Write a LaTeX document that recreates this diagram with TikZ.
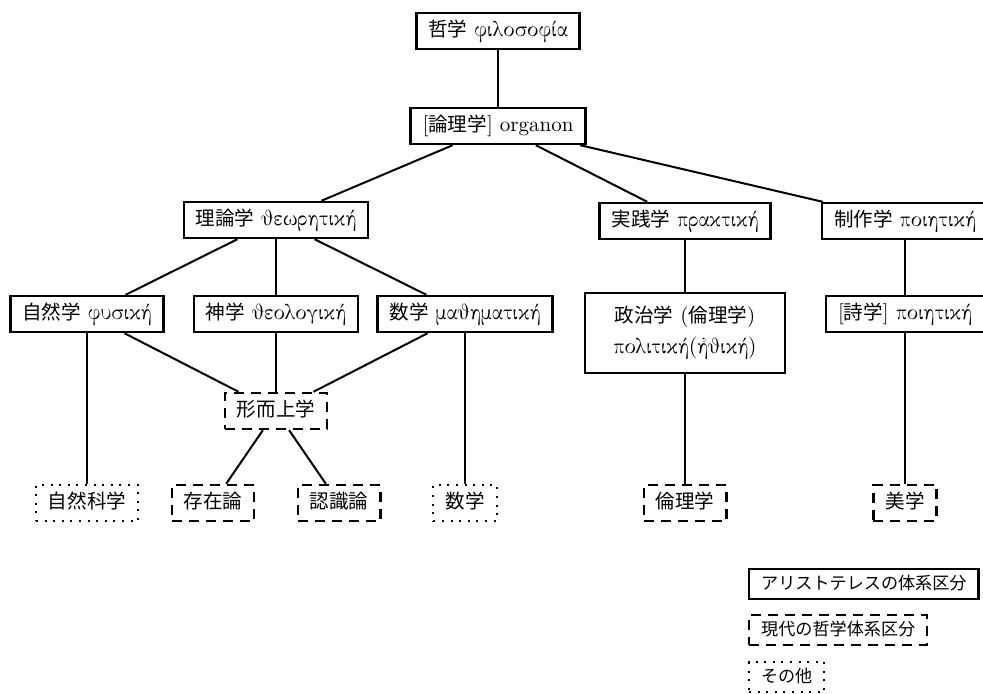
\documentclass[tikz,border=0pt]{standalone}
\usepackage[LGR,TU]{fontenc}
\usepackage{fontspec}
\newfontfamily\jpfont{Noto Sans CJK JP}[Scale=0.93]
\newcommand\J[1]{{\jpfont #1}}
\newcommand\G[1]{{\fontencoding{LGR}\fontfamily{cmr}\selectfont #1}}
\begin{document}
\begin{tikzpicture}[x=0.5pt, y=-0.5pt,
  frame/.style={draw, line width=1.2pt, font=\fontsize{10.5}{12.5}\selectfont},
  box/.style={frame, inner xsep=6pt, inner ysep=0pt, minimum height=18pt, text height=7.8pt, text depth=2.2pt},
  modern/.style={box, dash pattern=on 5pt off 3.5pt},
  other/.style={box, line width=1pt, dash pattern=on 1pt off 3.3pt},
  legend/.style={font=\fontsize{9.2}{11}\selectfont, minimum height=15pt, text height=7pt, text depth=1.8pt, anchor=west},
  link/.style={line width=1pt}]
\useasboundingbox (0,0) rectangle (983,693);
% Aristotle's system
\node[box] (phil) at (498,31) {\J{哲学} \G{filosof'ia}};
\node[box] (org) at (498,126) {[\J{論理学}] organon};
\node[box] (theo) at (276,220) {\J{理論学} \G{jewrhtik'h}};
\node[box] (prax) at (685,221) {\J{実践学} \G{praktik'h}};
\node[box] (poie) at (905,221) {\J{制作学} \G{poihtik'h}};
\node[box] (phys) at (87,314) {\J{自然学} \G{fusik'h}};
\node[box] (god) at (276,314) {\J{神学} \G{jeologik'h}};
\node[box] (math) at (465,314) {\J{数学} \G{majhmatik'h}};
\node[frame, minimum width=100pt, minimum height=40pt, align=center, inner sep=4pt] (pol) at (685,333)
  {\J{政治学} (\J{倫理学})\\[3pt] \G{politik'h(>hjik'h)}};
\node[box] (poet) at (905,314) {[\J{詩学}] \G{poihtik'h}};
% modern system
\node[modern] (meta) at (276,411) {\J{形而上学}};
\node[other] (nat) at (87,503) {\J{自然科学}};
\node[modern] (ont) at (213,503) {\J{存在論}};
\node[modern] (epi) at (339,503) {\J{認識論}};
\node[other] (mathb) at (465,503) {\J{数学}};
\node[modern] (eth) at (685,503) {\J{倫理学}};
\node[modern] (aes) at (905,503) {\J{美学}};
% legend
\node[box, legend] (l1) at (748,584) {\J{アリストテレスの体系区分}};
\node[modern, legend] (l2) at (748,630) {\J{現代の哲学体系区分}};
\node[other, legend] (l3) at (748,677) {\J{その他}};
% connectors
\draw[link] (phil) -- (org);
\draw[link] (org) -- (theo);
\draw[link] (org) -- (prax);
\draw[link] (org) -- (poie);
\draw[link] (theo) -- (phys);
\draw[link] (theo) -- (god);
\draw[link] (theo) -- (math);
\draw[link] (prax) -- (pol);
\draw[link] (poie) -- (poet);
\draw[link] (phys) -- (meta);
\draw[link] (god) -- (meta);
\draw[link] (math) -- (meta);
\draw[link] (phys) -- (nat);
\draw[link] (math) -- (mathb);
\draw[link] (meta) -- (ont);
\draw[link] (meta) -- (epi);
\draw[link] (pol) -- (eth);
\draw[link] (poet) -- (aes);
\end{tikzpicture}
\end{document}
